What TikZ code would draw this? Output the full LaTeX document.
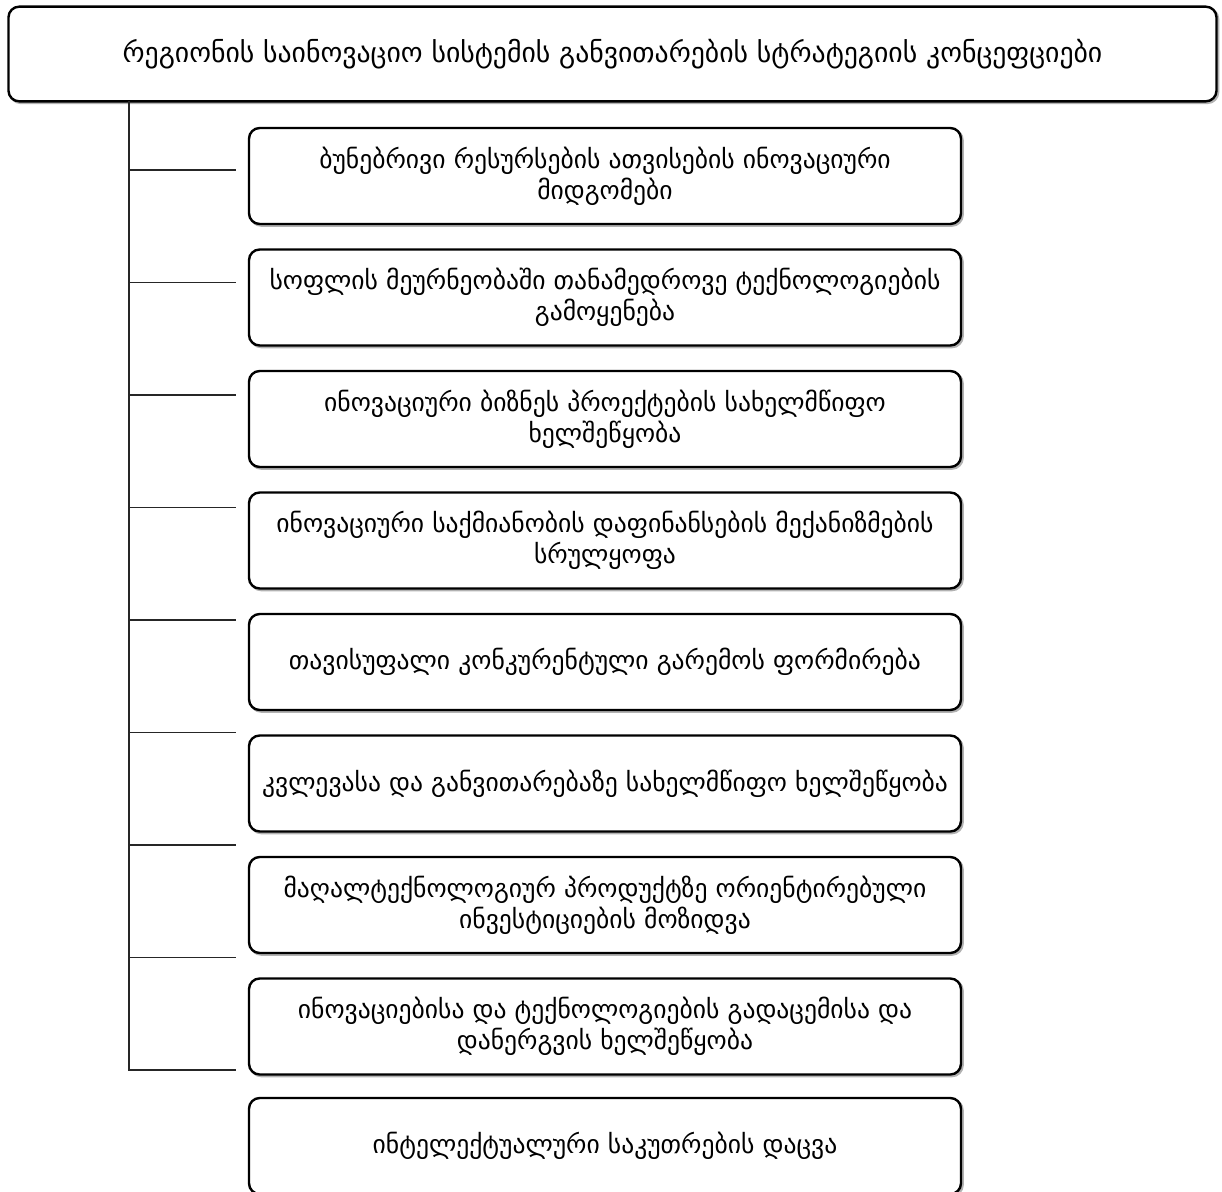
\documentclass[tikz,border=0pt]{standalone}
\usepackage{fontspec}
\setmainfont{DejaVu Sans}
\begin{document}
\begin{tikzpicture}[x=0.75pt,y=-0.75pt]
\tikzset{
  boxbase/.style={draw, line width=1.8pt, rounded corners=8pt, align=center, fill=white, inner sep=0pt,
    preaction={draw=black!30, line width=1.8pt, transform canvas={xshift=1.2pt,yshift=-1.2pt}}},
  topbox/.style={boxbase, minimum width=906pt, minimum height=71pt, font=\fontsize{20.8}{24}\selectfont},
  itembox/.style={boxbase, minimum width=534pt, minimum height=72pt, font=\fontsize{19.2}{23}\selectfont},
  conn/.style={line width=1pt, black!85}
}
\useasboundingbox (0,0) rectangle (1222,1192);
\node[topbox] (top) at (612.5,54) {რეგიონის საინოვაციო სისტემის განვითარების სტრატეგიის კონცეფციები};
\node[itembox] (b1) at (605,176) {ბუნებრივი რესურსების ათვისების ინოვაციური\\მიდგომები};
\node[itembox] (b2) at (605,297.5) {სოფლის მეურნეობაში თანამედროვე ტექნოლოგიების\\გამოყენება};
\node[itembox] (b3) at (605,419) {ინოვაციური ბიზნეს პროექტების სახელმწიფო\\ხელშეწყობა};
\node[itembox] (b4) at (605,540.5) {ინოვაციური საქმიანობის დაფინანსების მექანიზმების\\სრულყოფა};
\node[itembox] (b5) at (605,662) {თავისუფალი კონკურენტული გარემოს ფორმირება};
\node[itembox] (b6) at (605,783.5) {კვლევასა და განვითარებაზე სახელმწიფო ხელშეწყობა};
\node[itembox] (b7) at (605,905) {მაღალტექნოლოგიურ პროდუქტზე ორიენტირებული\\ინვესტიციების მოზიდვა};
\node[itembox] (b8) at (605,1026.5) {ინოვაციებისა და ტექნოლოგიების გადაცემისა და\\დანერგვის ხელშეწყობა};
\node[itembox] (b9) at (605,1146) {ინტელექტუალური საკუთრების დაცვა};
\coordinate (vtop) at (129,101);
\coordinate (vend) at (129,1070);
\draw[conn] (vtop) -- (vend) -- (236,1070) coordinate (e9);
\foreach \i/\y in {1/170,2/282.5,3/395,4/507.5,5/620,6/732.5,7/845,8/957.5}{
  \coordinate (s\i) at (129,\y);
  \coordinate (e\i) at (236,\y);
  \draw[conn] (s\i) -- (e\i);
}
\end{tikzpicture}
\end{document}
